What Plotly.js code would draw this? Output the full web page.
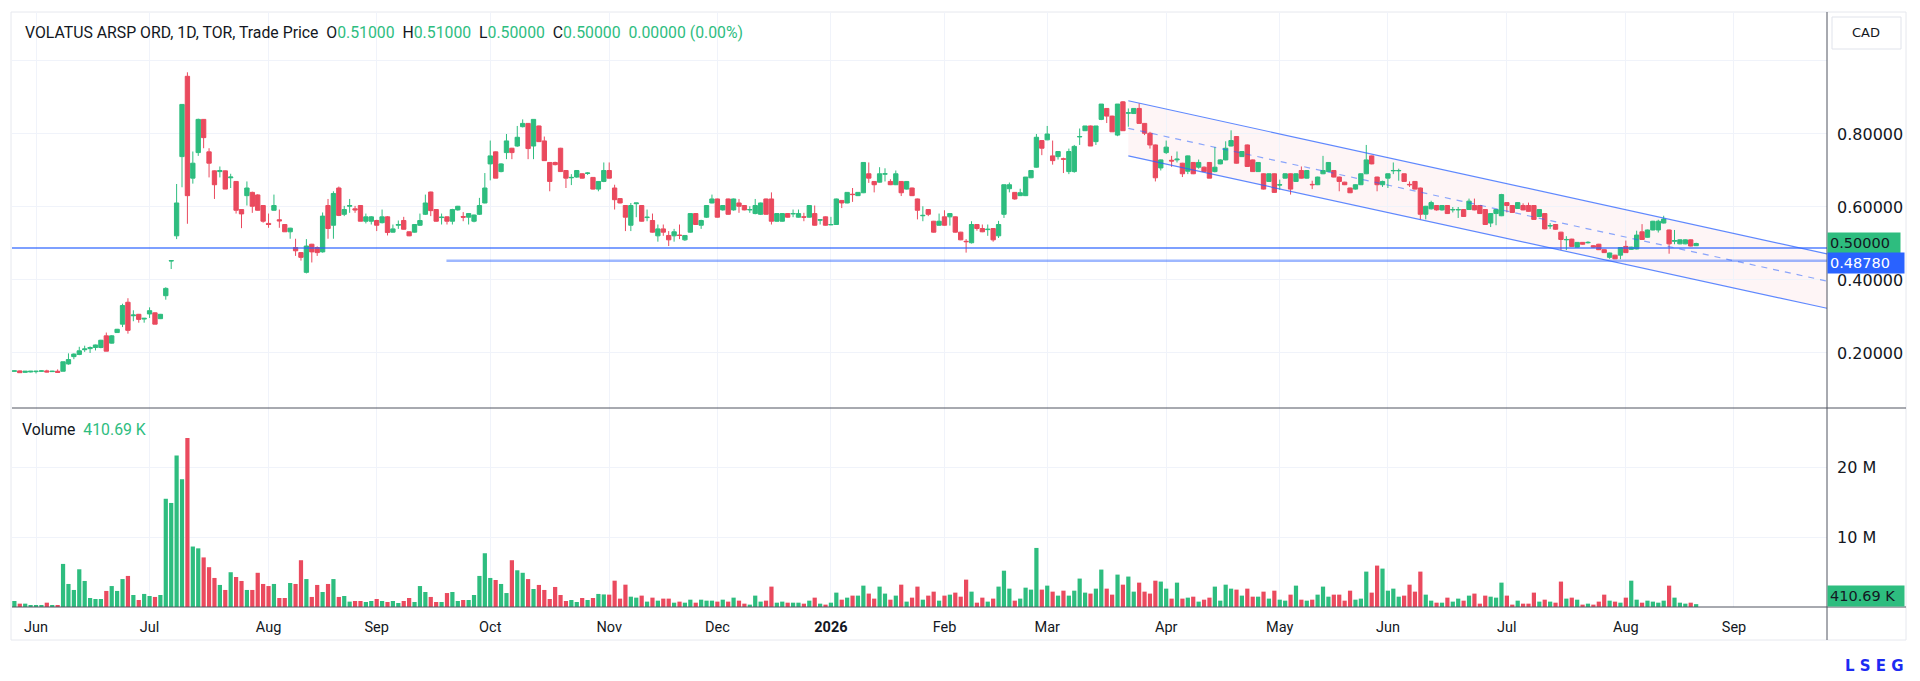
<!DOCTYPE html>
<html>
<head>
<meta charset="utf-8">
<script src="https://cdn.plot.ly/plotly-3.0.1.min.js"></script>
<style>
html,body{margin:0;padding:0;background:#ffffff;}
#chart{width:1920px;height:681px;}
</style>
</head>
<body>
<div id="chart"></div>
<script>
// ---- data (daily bars, bar index -4 .. 307; index 0 = first June bar) ----
const FIRST_INDEX = -4;
const open = [
.150,.151,.147,.148,.149,.150,.151,.149,.150,.150,
.170,.190,.196,.209,.212,.215,.215,.247,.227,.256,
.279,.339,.302,.306,.293,.307,.310,.294,.357,.452,
.521,.738,.958,.679,.749,.840,.751,.699,.697,.699,
.680,.670,.593,.631,.640,.633,.604,.555,.591,.565,
.552,.532,.489,.475,.421,.498,.489,.477,.604,.550,
.652,.580,.602,.595,.604,.561,.561,.563,.557,.573,
.531,.550,.563,.532,.531,.550,.580,.641,.593,.571,
.573,.561,.592,.574,.572,.561,.580,.611,.718,.751,
.697,.749,.761,.767,.820,.829,.767,.822,.781,.722,
.722,.761,.700,.680,.682,.691,.692,.681,.649,.670,
.700,.652,.623,.604,.550,.609,.604,.571,.563,.521,
.540,.522,.521,.523,.510,.531,.582,.550,.572,.611,
.622,.592,.622,.592,.611,.604,.592,.582,.580,.622,
.622,.561,.561,.582,.581,.572,.573,.572,.582,.564,
.573,.551,.552,.618,.611,.635,.631,.639,.691,.670,
.668,.690,.670,.661,.670,.649,.652,.622,.576,.593,
.561,.550,.573,.573,.573,.531,.506,.502,.552,.541,
.538,.541,.521,.580,.650,.640,.631,.631,.680,.709,
.782,.784,.740,.738,.732,.697,.697,.792,.809,.822,
.779,.840,.870,.849,.797,.888,.857,.856,.870,.829,
.802,.770,.707,.749,.728,.729,.720,.698,.722,.709,
.709,.722,.697,.718,.729,.767,.793,.738,.770,.729,
.697,.691,.670,.691,.660,.679,.691,.670,.700,.679,
.662,.661,.691,.697,.700,.682,.668,.652,.649,.661,
.691,.740,.682,.661,.679,.699,.699,.691,.662,.670,
.652,.580,.595,.604,.592,.604,.592,.592,.593,.593,
.604,.604,.593,.556,.582,.576,.612,.604,.596,.604,
.604,.604,.574,.582,.548,.552,.531,.510,.512,.490,
.503,.502,.494,.498,.483,.462,.468,.468,.492,.484,
.485,.532,.517,.537,.537,.556,.537,.506,.499,.499,
.510,.494];
const high = [
.152,.152,.150,.150,.151,.152,.154,.151,.155,.176,
.199,.199,.217,.220,.218,.223,.236,.256,.249,.266,
.335,.350,.317,.307,.296,.325,.311,.307,.380,.453,
.663,.882,.969,.752,.842,.841,.761,.700,.711,.700,
.691,.671,.594,.670,.642,.635,.605,.582,.634,.593,
.553,.543,.513,.476,.512,.499,.492,.585,.622,.643,
.656,.603,.622,.603,.605,.582,.575,.565,.593,.575,
.552,.563,.573,.533,.553,.582,.634,.642,.594,.582,
.574,.595,.603,.586,.583,.579,.625,.693,.782,.752,
.720,.800,.762,.822,.840,.830,.840,.823,.793,.723,
.724,.762,.701,.690,.701,.692,.695,.682,.671,.722,
.722,.661,.624,.605,.611,.611,.605,.593,.582,.552,
.552,.534,.540,.552,.522,.582,.583,.565,.605,.634,
.623,.605,.623,.623,.622,.605,.602,.622,.612,.623,
.640,.583,.583,.583,.593,.593,.584,.605,.604,.567,
.574,.573,.623,.619,.641,.652,.641,.722,.722,.671,
.709,.706,.676,.700,.671,.671,.653,.623,.602,.594,
.562,.582,.591,.583,.574,.532,.512,.561,.553,.552,
.552,.542,.562,.661,.667,.641,.650,.682,.701,.800,
.783,.822,.782,.752,.735,.760,.770,.815,.822,.823,
.822,.882,.871,.850,.882,.890,.870,.870,.884,.830,
.806,.771,.730,.782,.740,.752,.721,.741,.723,.730,
.711,.723,.764,.731,.780,.810,.794,.753,.771,.730,
.723,.692,.692,.692,.675,.692,.692,.692,.711,.701,
.672,.683,.740,.723,.701,.683,.669,.653,.662,.692,
.770,.741,.683,.672,.692,.722,.705,.692,.670,.671,
.653,.603,.617,.605,.605,.605,.600,.600,.594,.623,
.623,.605,.594,.583,.594,.636,.613,.605,.613,.610,
.612,.605,.594,.583,.556,.553,.532,.520,.513,.504,
.504,.506,.495,.499,.484,.475,.469,.490,.508,.491,
.535,.553,.538,.562,.565,.576,.538,.537,.511,.511,
.511,.502];
const low = [
.150,.146,.146,.147,.144,.149,.147,.148,.146,.150,
.168,.183,.194,.203,.200,.207,.213,.205,.226,.255,
.271,.253,.287,.283,.283,.296,.279,.293,.346,.430,
.512,.654,.554,.664,.740,.761,.681,.622,.681,.649,
.652,.582,.542,.604,.584,.590,.557,.543,.590,.543,
.532,.513,.466,.453,.418,.448,.466,.475,.513,.513,
.575,.575,.584,.584,.561,.555,.552,.534,.555,.522,
.530,.540,.538,.520,.530,.548,.578,.575,.560,.552,
.552,.552,.590,.561,.552,.558,.578,.610,.673,.679,
.695,.731,.731,.765,.818,.731,.731,.778,.727,.643,
.714,.696,.652,.660,.680,.678,.688,.648,.643,.668,
.678,.593,.610,.534,.534,.572,.560,.561,.530,.505,
.521,.493,.505,.512,.507,.530,.551,.540,.570,.610,
.571,.590,.579,.590,.584,.591,.584,.580,.578,.579,
.552,.560,.560,.571,.572,.571,.561,.571,.549,.552,
.549,.550,.551,.597,.610,.614,.630,.638,.666,.640,
.667,.670,.660,.660,.630,.648,.630,.566,.561,.575,
.530,.549,.549,.549,.530,.509,.475,.500,.535,.531,
.521,.505,.515,.570,.640,.620,.630,.630,.679,.708,
.742,.783,.716,.730,.693,.690,.694,.770,.808,.767,
.770,.838,.830,.806,.794,.809,.820,.855,.829,.797,
.760,.670,.700,.745,.710,.722,.682,.690,.690,.705,
.696,.679,.695,.717,.728,.766,.719,.737,.711,.696,
.696,.648,.669,.639,.647,.678,.634,.669,.678,.678,
.649,.660,.690,.696,.681,.643,.660,.638,.648,.660,
.690,.717,.643,.655,.652,.690,.672,.669,.655,.648,
.566,.566,.593,.590,.590,.581,.585,.570,.573,.592,
.591,.581,.552,.545,.550,.575,.585,.584,.595,.591,
.587,.565,.573,.539,.540,.538,.482,.482,.491,.489,
.497,.500,.489,.482,.474,.458,.457,.457,.474,.483,
.484,.510,.516,.536,.530,.555,.472,.498,.498,.498,
.492,.493];
const close = [
.151,.146,.150,.150,.150,.151,.148,.150,.147,.176,
.182,.197,.206,.211,.215,.222,.235,.205,.247,.265,
.330,.262,.304,.292,.295,.316,.279,.306,.377,.453,
.611,.881,.631,.720,.840,.790,.720,.661,.700,.649,
.682,.591,.581,.652,.602,.591,.561,.552,.604,.562,
.532,.542,.480,.462,.493,.477,.475,.575,.541,.637,
.577,.593,.604,.592,.561,.573,.573,.550,.573,.530,
.540,.552,.539,.521,.552,.563,.611,.590,.561,.572,
.561,.593,.602,.572,.582,.578,.604,.652,.740,.679,
.718,.781,.749,.791,.829,.760,.840,.779,.727,.670,
.716,.697,.679,.681,.700,.679,.693,.649,.670,.700,
.679,.620,.611,.572,.604,.611,.561,.572,.531,.540,
.531,.510,.532,.522,.522,.582,.552,.563,.604,.622,
.572,.604,.580,.622,.602,.592,.593,.604,.611,.580,
.561,.582,.582,.572,.582,.582,.572,.604,.550,.565,
.550,.552,.622,.611,.640,.634,.640,.722,.679,.661,
.691,.691,.661,.691,.639,.670,.631,.591,.577,.580,
.531,.561,.550,.582,.531,.510,.505,.552,.541,.532,
.539,.510,.552,.661,.661,.622,.639,.682,.700,.791,
.761,.800,.727,.752,.731,.752,.766,.793,.822,.767,
.822,.882,.849,.806,.882,.809,.858,.870,.829,.802,
.770,.680,.729,.764,.726,.731,.691,.740,.691,.722,
.697,.679,.709,.729,.761,.782,.720,.752,.711,.697,
.722,.649,.691,.640,.661,.691,.649,.691,.679,.700,
.661,.682,.700,.722,.682,.670,.661,.639,.661,.691,
.729,.718,.661,.670,.691,.700,.700,.670,.661,.649,
.580,.602,.612,.592,.604,.582,.593,.593,.574,.616,
.592,.582,.552,.582,.593,.634,.604,.585,.612,.592,
.588,.566,.593,.540,.549,.539,.511,.511,.492,.503,
.498,.503,.490,.483,.475,.474,.458,.489,.475,.490,
.523,.511,.537,.561,.561,.567,.499,.508,.510,.510,
.493,.500];
// volume in millions
const volume = [
.86,.48,.48,.29,.29,.29,.62,.29,.29,6.17,
3.3,2.44,5.4,3.73,1.29,1.15,1.15,2.3,3.0,2.3,
4.0,4.45,1.72,1.0,1.87,1.58,1.44,1.72,15.5,14.9,
21.7,18.3,24.2,8.66,8.4,7.1,5.7,4.16,3.16,2.44,
4.98,4.3,3.73,2.44,2.44,4.9,3.3,3.0,3.3,1.29,
1.29,3.44,3.3,6.7,4.0,1.44,3.16,2.15,3.3,4.0,
1.44,1.58,.77,.86,.86,.72,.86,1.15,.86,.72,
.86,.57,.86,1.29,.72,3.0,2.15,1.44,.72,.72,
2.0,2.15,.86,1.0,1.0,1.72,4.45,7.7,4.16,3.87,
3.3,2.0,6.7,5.26,4.9,4.0,2.58,3.16,2.44,1.15,
2.87,1.72,.86,1.0,.72,1.29,1.0,1.29,1.87,1.8,
1.77,3.77,1.2,3.2,1.48,1.34,1.63,.77,1.34,.91,
1.2,1.2,.62,.77,.62,1.05,.62,1.05,.91,.91,
.77,1.05,.77,1.34,.91,.48,.34,1.63,.77,.91,
2.92,.62,.77,.62,.62,.62,.48,.91,1.34,.48,
.34,.62,2.06,1.05,1.34,1.63,1.63,3.06,1.92,1.2,
2.92,1.92,1.05,1.63,3.2,.77,1.34,2.92,1.05,1.63,
2.2,.91,1.63,1.77,2.06,1.48,3.92,2.2,.62,1.34,
.77,1.2,2.92,5.2,2.63,.91,1.2,2.77,2.49,8.46,
2.49,3.06,2.2,1.63,2.34,1.63,2.34,4.07,2.06,1.92,
2.63,5.36,2.63,1.77,4.64,3.2,4.36,2.2,3.49,2.2,
1.92,3.77,3.64,2.63,1.2,3.49,1.2,1.34,1.48,.77,
1.05,1.34,2.92,.91,3.2,2.63,2.49,1.63,2.63,1.48,
1.48,2.2,1.2,2.34,1.05,.91,1.77,3.06,1.05,.91,
1.05,1.77,2.92,1.48,1.77,1.77,.91,2.34,1.05,1.2,
5.07,2.06,5.93,5.5,2.34,2.63,1.48,1.63,3.2,2.2,
5.07,1.77,.91,.62,.62,1.34,.77,1.2,.91,1.63,
1.92,.48,1.63,1.48,1.34,3.49,1.63,.34,.91,.48,
.48,2.06,.77,1.05,.77,.62,3.64,1.2,1.34,1.05,
.34,.48,.34,.77,1.77,.91,.77,.62,1.34,3.77,
1.05,.62,.91,.77,.62,.91,3.06,1.34,.62,.48,
.62,.41069];

const monthTickIdx  = [0,21,43,63,84,106,126,147,168,187,209,230,250,272,294,314];
const monthTickText = ['Jun','Jul','Aug','Sep','Oct','Nov','Dec','<b>2026</b>','Feb','Mar','Apr','May','Jun','Jul','Aug','Sep'];
const priceTicks    = [0.2,0.4,0.6,0.8,1.0];
const priceTickText = ['0.20000','0.40000','0.60000','0.80000',''];
const volTicks      = [10,20];
const volTickText   = ['10 M','20 M'];

// drawings: regression channel and horizontal lines (bar index, price)
const channelX      = [202.0, 331.2];
const channelTop    = [0.891, 0.4715];
const channelBottom = [0.740, 0.3225];
const hLineUpperX   = [-4.44, 331.2];
const hLineUpperY   = 0.4878;
const hLineLowerX   = [75.9, 331.2];
const hLineLowerY   = 0.453;

const headerParts = ['0.51000','0.51000','0.50000','0.50000','0.00000 (0.00%)'];
const lastPrice = '0.50000', lineLabel = '0.48780', lastVol = '410.69 K';

// ---- styling ----
const GREEN = '#2ebd7f', RED = '#ea4a5e';
const BLUE = '#2962ff';
const AXF = 'DejaVu Sans';
const TXT = '#131722';

const x = open.map((_, k) => FIRST_INDEX + k);
const volColors = close.map((c, k) => c >= open[k] ? GREEN : RED);

const candle = {
  type: 'candlestick', x: x, open: open, high: high, low: low, close: close,
  xaxis: 'x', yaxis: 'y',
  increasing: {line: {color: GREEN, width: 1}, fillcolor: GREEN},
  decreasing: {line: {color: RED, width: 1}, fillcolor: RED},
  whiskerwidth: 0, hoverinfo: 'skip', showlegend: false
};
const vol = {
  type: 'bar', x: x, y: volume, xaxis: 'x', yaxis: 'y2',
  marker: {color: volColors, line: {width: 0}}, width: 0.78,
  hoverinfo: 'skip', showlegend: false
};

const px = v => (v - 12) / 1815;      // pixel -> paper x
const py = v => (607 - v) / 595;      // pixel -> paper y

const midY = [(channelTop[0] + channelBottom[0]) / 2, (channelTop[1] + channelBottom[1]) / 2];
const shapes = [
  {type: 'path', xref: 'x', yref: 'y', layer: 'below',
   path: `M ${channelX[0]} ${channelTop[0]} L ${channelX[1]} ${channelTop[1]} L ${channelX[1]} ${channelBottom[1]} L ${channelX[0]} ${channelBottom[0]} Z`,
   fillcolor: 'rgba(242,54,69,0.05)', line: {width: 0}},
  {type: 'line', xref: 'x', yref: 'y', x0: channelX[0], x1: channelX[1], y0: channelTop[0], y1: channelTop[1],
   line: {color: 'rgba(41,98,255,0.75)', width: 1.2}},
  {type: 'line', xref: 'x', yref: 'y', x0: channelX[0], x1: channelX[1], y0: channelBottom[0], y1: channelBottom[1],
   line: {color: 'rgba(41,98,255,0.75)', width: 1.2}},
  {type: 'line', xref: 'x', yref: 'y', x0: channelX[0], x1: channelX[1], y0: midY[0], y1: midY[1],
   line: {color: 'rgba(41,98,255,0.55)', width: 1.2, dash: '6px,6px'}},
  {type: 'line', xref: 'x', yref: 'y', x0: hLineUpperX[0], x1: hLineUpperX[1], y0: hLineUpperY, y1: hLineUpperY,
   line: {color: 'rgba(41,98,255,0.8)', width: 1.5}},
  {type: 'line', xref: 'x', yref: 'y', x0: hLineLowerX[0], x1: hLineLowerX[1], y0: hLineLowerY, y1: hLineLowerY,
   line: {color: 'rgba(41,98,255,0.45)', width: 2.5}},
  {type: 'rect', xref: 'paper', yref: 'paper', x0: px(11), x1: px(1906), y0: py(640), y1: py(12),
   line: {color: '#e6e8ee', width: 1}, fillcolor: 'rgba(0,0,0,0)', layer: 'below'},
  {type: 'line', xref: 'paper', yref: 'paper', x0: 1, x1: 1, y0: py(640), y1: py(12), line: {color: '#505460', width: 1}},
  {type: 'line', xref: 'paper', yref: 'paper', x0: 0, x1: px(1906), y0: py(408), y1: py(408), line: {color: '#505460', width: 1}},
  {type: 'line', xref: 'paper', yref: 'paper', x0: 0, x1: px(1906), y0: 0, y1: 0, line: {color: '#505460', width: 1}},
  {type: 'rect', xref: 'paper', yref: 'paper', x0: px(1832), x1: px(1901), y0: py(49), y1: py(17),
   line: {color: '#e0e3eb', width: 1}, fillcolor: '#ffffff'}
];

const G = s => `<span style="color:${GREEN}">${s}</span>`;
const NB = '\u00a0\u00a0';
const headerText = 'VOLATUS ARSP ORD, 1D, TOR, Trade Price' + NB +
  'O' + G(headerParts[0]) + NB + 'H' + G(headerParts[1]) + NB + 'L' + G(headerParts[2]) + NB +
  'C' + G(headerParts[3]) + NB + G(headerParts[4]);

const annotations = [
  {xref: 'paper', yref: 'paper', x: px(23), y: py(33), xanchor: 'left', yanchor: 'middle', showarrow: false,
   text: headerText, font: {family: 'Roboto', size: 15.8, color: TXT}},
  {xref: 'paper', yref: 'paper', x: px(20), y: py(430), xanchor: 'left', yanchor: 'middle', showarrow: false,
   text: 'Volume' + NB + G(lastVol), font: {family: 'Roboto', size: 15.8, color: TXT}},
  {xref: 'paper', yref: 'paper', x: px(1866), y: py(33), xanchor: 'center', yanchor: 'middle', showarrow: false,
   text: 'CAD', font: {family: AXF, size: 13, color: TXT}},
  {xref: 'paper', yref: 'paper', x: 1, y: py(243.5), xanchor: 'left', yanchor: 'middle', showarrow: false,
   text: lastPrice, bgcolor: GREEN, borderpad: 2, width: 68, align: 'left',
   font: {family: AXF, size: 14.5, color: TXT}},
  {xref: 'paper', yref: 'paper', x: 1, y: py(263), xanchor: 'left', yanchor: 'middle', showarrow: false,
   text: lineLabel, bgcolor: BLUE, borderpad: 2, width: 72, align: 'left',
   font: {family: AXF, size: 14.5, color: '#ffffff'}},
  {xref: 'paper', yref: 'paper', x: 1, y: py(596), xanchor: 'left', yanchor: 'middle', showarrow: false,
   text: lastVol, bgcolor: GREEN, borderpad: 2, width: 72, align: 'left',
   font: {family: AXF, size: 14.5, color: TXT}},
  {xref: 'paper', yref: 'paper', x: px(1906), y: py(666), xanchor: 'right', yanchor: 'middle', showarrow: false,
   text: '<b>L S E G</b>', font: {family: 'DejaVu Sans', size: 15, color: '#1d2bf2'}}
];

const layout = {
  width: 1920, height: 681,
  margin: {l: 12, r: 93, t: 12, b: 74, pad: 0},
  paper_bgcolor: '#ffffff', plot_bgcolor: '#ffffff',
  showlegend: false, hovermode: false, dragmode: false,
  boxgap: 0.2, boxgroupgap: 0,
  bargap: 0.2,
  xaxis: {
    type: 'linear', range: [-4.44, 331.2], anchor: 'y2',
    tickmode: 'array', tickvals: monthTickIdx, ticktext: monthTickText,
    showgrid: true, gridcolor: '#f0f3fa', gridwidth: 1,
    zeroline: false, showline: false, ticks: '',
    ticklabelstandoff: 9,
    tickfont: {family: 'Roboto', size: 14.5, color: TXT},
    rangeslider: {visible: false}, fixedrange: true
  },
  yaxis: {
    domain: [py(408), 1], range: [0.0493, 1.1342], side: 'right', anchor: 'x',
    tickmode: 'array', tickvals: priceTicks, ticktext: priceTickText,
    showgrid: true, gridcolor: '#f0f3fa', gridwidth: 1,
    zeroline: false, showline: false, ticks: '', ticklabelstandoff: 9,
    tickfont: {family: AXF, size: 16, color: TXT}, fixedrange: true
  },
  yaxis2: {
    domain: [0, py(408)], range: [0, 28.5], side: 'right', anchor: 'x',
    tickmode: 'array', tickvals: volTicks, ticktext: volTickText,
    showgrid: true, gridcolor: '#f0f3fa', gridwidth: 1,
    zeroline: false, showline: false, ticks: '', ticklabelstandoff: 9,
    tickfont: {family: AXF, size: 16, color: TXT}, fixedrange: true
  },
  shapes: shapes,
  annotations: annotations
};

Plotly.newPlot('chart', [vol, candle], layout, {displayModeBar: false, staticPlot: true});
</script>
</body>
</html>
